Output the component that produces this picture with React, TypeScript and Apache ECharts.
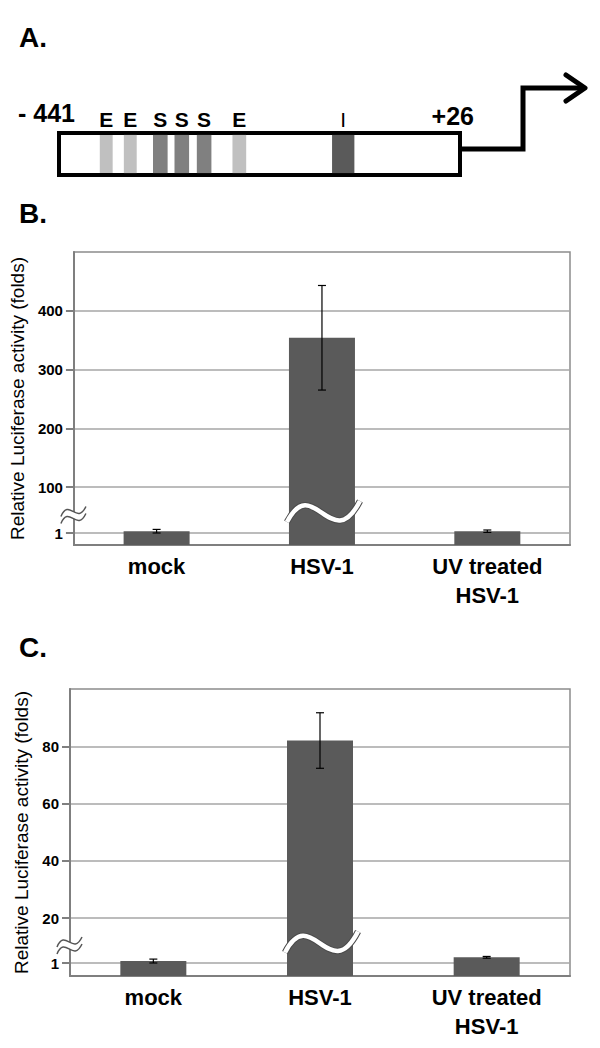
import React, { useEffect, useRef } from 'react';
import * as echarts from 'echarts';

// ---------- data ----------
const categories = ['mock', 'HSV-1', 'UV treated\nHSV-1'];

const panelBMeans = [1.15, 354, 1.15];
const panelBErrors = [0.15, 89, 0.1];
const panelBTicks = [1, 100, 200, 300, 400];

const panelCMeans = [1.15, 82, 1.45];
const panelCErrors = [0.15, 9.7, 0.08];
const panelCTicks = [1, 20, 40, 60, 80];

// promoter map (bp relative to TSS)
const promoterStart = -441;
const promoterEnd = 26;
const siteLabels = ['E', 'E', 'S', 'S', 'S', 'E', 'I'];
const siteCenters = [-386, -358, -323, -298, -272, -231, -110];
const siteWidths = [15, 15, 17, 17, 17, 16, 26];

// ---------- styling / layout ----------
const FONT = '"Liberation Sans", Arial, Helvetica, sans-serif';
const BAR = '#5a5a5a';
const AXIS = '#7f7f7f';
const GRIDLINE = '#a6a6a6';
const siteColors: Record<string, string> = { E: '#c0c0c0', S: '#808080', I: '#5a5a5a' };

type Broken = { low: number; cut: number; high: number; highBase: number; slope: number; max: number };
// broken axis: px per unit below the break, compressed gap, px per unit above it
const scaleB: Broken = { low: 12, cut: 1.5, high: 100, highBase: 58, slope: 0.5875, max: 500 };
const scaleC: Broken = { low: 13, cut: 1.5, high: 20, highBase: 58, slope: 2.8625, max: 100 };

function toAxis(v: number, s: Broken): number {
  if (v <= s.cut) return v * s.low;
  if (v >= s.high) return s.highBase + (v - s.high) * s.slope;
  const a = s.cut * s.low;
  return a + ((v - s.cut) / (s.high - s.cut)) * (s.highBase - a);
}

function valueAxis(gridIndex: number, ticks: number[], s: Broken) {
  const pos = ticks.map((t) => toAxis(t, s));
  return {
    type: 'value',
    gridIndex,
    min: 0,
    max: toAxis(s.max, s),
    name: 'Relative Luciferase activity (folds)',
    nameLocation: 'middle',
    nameGap: 36,
    nameTextStyle: { fontFamily: FONT, fontSize: 19, color: '#000' },
    axisLine: { show: true, lineStyle: { color: AXIS, width: 2 } },
    axisTick: { show: true, length: 8, customValues: pos, lineStyle: { color: AXIS, width: 2 } },
    axisLabel: {
      customValues: pos,
      margin: 11,
      fontFamily: FONT,
      fontSize: 15,
      fontWeight: 'bold',
      color: '#000',
      formatter: (v: number) => {
        const i = pos.findIndex((p) => Math.abs(p - v) < 1e-6);
        return i >= 0 ? String(ticks[i]) : '';
      },
    },
    splitLine: { show: true, lineStyle: { color: GRIDLINE, width: 1.5 } },
  };
}

function catAxis(gridIndex: number) {
  return {
    type: 'category',
    gridIndex,
    data: categories,
    axisLine: { lineStyle: { color: AXIS, width: 2 } },
    axisTick: { show: false },
    axisLabel: {
      interval: 0,
      margin: 7,
      fontFamily: FONT,
      fontSize: 22,
      fontWeight: 'bold',
      color: '#000',
      lineHeight: 29,
    },
  };
}

const errorItem = (params: any, api: any) => {
  const x = api.value(0);
  const lo = api.coord([x, api.value(1)]);
  const hi = api.coord([x, api.value(2)]);
  const hw = 4;
  const style = { stroke: '#000', lineWidth: 1.2 };
  return {
    type: 'group',
    children: [
      { type: 'line', shape: { x1: lo[0], y1: lo[1], x2: hi[0], y2: hi[1] }, style },
      { type: 'line', shape: { x1: lo[0] - hw, y1: lo[1], x2: lo[0] + hw, y2: lo[1] }, style },
      { type: 'line', shape: { x1: hi[0] - hw, y1: hi[1], x2: hi[0] + hw, y2: hi[1] }, style },
    ],
  };
};

const breakItem = (params: any, api: any) => {
  const p = api.coord([api.value(0), api.value(1)]);
  const ax = params.coordSys.x;
  const cx = p[0];
  const wy = p[1] + 2;
  const ay = p[1] + 5;
  const barWave = {
    x1: cx - 35, y1: wy + 10, cpx1: cx - 9, cpy1: wy - 40, cpx2: cx + 10, cpy2: wy + 44, x2: cx + 38, y2: wy - 11,
  };
  const axisWave = (dy: number) => ({
    x1: ax - 13, y1: ay + dy + 5, cpx1: ax - 5, cpy1: ay + dy - 14, cpx2: ax + 3, cpy2: ay + dy + 14, x2: ax + 12, y2: ay + dy - 5,
  });
  return {
    type: 'group',
    children: [
      { type: 'bezierCurve', shape: barWave, style: { stroke: '#4a4a4a', lineWidth: 6.5, fill: null } },
      { type: 'bezierCurve', shape: barWave, style: { stroke: '#ffffff', lineWidth: 4.5, fill: null } },
      { type: 'bezierCurve', shape: axisWave(0), style: { stroke: '#ffffff', lineWidth: 6, fill: null } },
      { type: 'bezierCurve', shape: axisWave(-3.5), style: { stroke: '#555', lineWidth: 1.5, fill: null } },
      { type: 'bezierCurve', shape: axisWave(3.5), style: { stroke: '#555', lineWidth: 1.5, fill: null } },
    ],
  };
};

const siteItem = (params: any, api: any) => {
  const c = api.value(0);
  const w = api.value(1);
  const label = siteLabels[params.dataIndex];
  const p0 = api.coord([c - w / 2, 0]);
  const p1 = api.coord([c + w / 2, 1]);
  return {
    type: 'group',
    children: [
      {
        type: 'rect',
        shape: { x: p0[0], y: p1[1], width: p1[0] - p0[0], height: p0[1] - p1[1] },
        style: { fill: siteColors[label] },
      },
      {
        type: 'text',
        x: (p0[0] + p1[0]) / 2,
        y: p1[1] - 15,
        style: {
          text: label,
          fill: '#000',
          font: `${label === 'I' ? 'normal' : 'bold'} 21px ${FONT}`,
          align: 'center',
          verticalAlign: 'middle',
        },
      },
    ],
  };
};

function panelSeries(idx: number, means: number[], errors: number[], s: Broken) {
  const top = means.indexOf(Math.max(...means));
  const mid = (toAxis(1, s) + toAxis(s.high, s)) / 2;
  return [
    {
      type: 'bar',
      xAxisIndex: idx,
      yAxisIndex: idx,
      data: means.map((m) => toAxis(m, s)),
      barWidth: 66,
      itemStyle: { color: BAR },
      z: 2,
    },
    {
      type: 'custom',
      xAxisIndex: idx,
      yAxisIndex: idx,
      renderItem: breakItem,
      data: [[top, mid]],
      z: 4,
    },
    {
      type: 'custom',
      xAxisIndex: idx,
      yAxisIndex: idx,
      renderItem: errorItem,
      data: means.map((m, i) => [i, toAxis(m - errors[i], s), toAxis(m + errors[i], s)]),
      z: 5,
    },
  ];
}

const letter = (t: string, y: number) => ({
  type: 'text',
  x: 19,
  y,
  style: { text: t, font: `bold 28px ${FONT}`, fill: '#000', verticalAlign: 'middle' },
});

export default function App() {
  const ref = useRef<HTMLDivElement>(null);
  useEffect(() => {
    if (!ref.current) return;
    const chart = echarts.init(ref.current, null, { renderer: 'svg' });
    chart.setOption({
      animation: false,
      backgroundColor: '#fff',
      grid: [
        { left: 70, top: 252, width: 500, height: 293, show: true, borderColor: '#8c8c8c', borderWidth: 1.5 },
        { left: 70, top: 689, width: 500, height: 287, show: true, borderColor: '#8c8c8c', borderWidth: 1.5 },
        { left: 59, top: 133, width: 401, height: 42, show: true, borderColor: '#000', borderWidth: 4, backgroundColor: '#fff' },
      ],
      xAxis: [
        catAxis(0),
        catAxis(1),
        { type: 'value', gridIndex: 2, min: promoterStart, max: promoterEnd, show: false },
      ],
      yAxis: [
        valueAxis(0, panelBTicks, scaleB),
        valueAxis(1, panelCTicks, scaleC),
        { type: 'value', gridIndex: 2, min: -0.05, max: 1.05, show: false },
      ],
      series: [
        ...panelSeries(0, panelBMeans, panelBErrors, scaleB),
        ...panelSeries(1, panelCMeans, panelCErrors, scaleC),
        {
          type: 'custom',
          xAxisIndex: 2,
          yAxisIndex: 2,
          renderItem: siteItem,
          data: siteCenters.map((c, i) => [c, siteWidths[i]]),
          z: 3,
        },
      ],
      graphic: [
        letter('A.', 37.5),
        letter('B.', 213.5),
        letter('C.', 647.5),
        {
          type: 'text',
          x: 18,
          y: 113,
          style: { text: '- 441', font: `bold 25px ${FONT}`, fill: '#000', verticalAlign: 'middle' },
        },
        {
          type: 'text',
          x: 474,
          y: 116,
          style: { text: '+26', font: `bold 25px ${FONT}`, fill: '#000', align: 'right', verticalAlign: 'middle' },
        },
        {
          type: 'polyline',
          shape: { points: [[461, 149], [523, 149], [523, 88], [584, 88]] },
          style: { stroke: '#000', lineWidth: 5, fill: null, lineJoin: 'miter' },
        },
        {
          type: 'polyline',
          shape: { points: [[566, 75], [585, 88], [566, 101]] },
          style: { stroke: '#000', lineWidth: 5, fill: null, lineJoin: 'round', lineCap: 'round' },
        },
      ],
    });
    return () => chart.dispose();
  }, []);
  return <div ref={ref} style={{ position: 'absolute', left: 0, top: 0, width: 600, height: 1048 }} />;
}
